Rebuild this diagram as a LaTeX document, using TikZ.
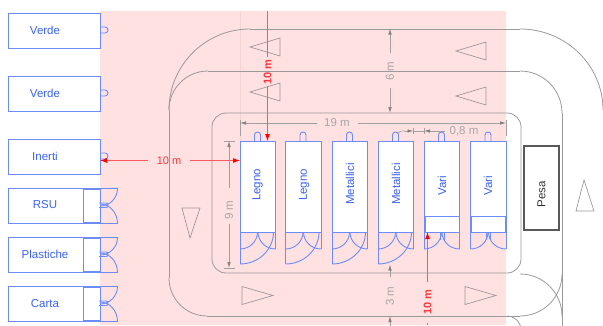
\documentclass[tikz,border=0pt]{standalone}
\usepackage{fontspec}
\setmainfont{Liberation Sans}
\usetikzlibrary{arrows.meta}
\definecolor{pinkbg}{HTML}{FFE1E2}
\definecolor{pinkln}{HTML}{F9D2D4}
\definecolor{blueln}{HTML}{6C8CFA}
\definecolor{bluetx}{HTML}{3A62F5}
\definecolor{roadln}{HTML}{9A9A9A}
\definecolor{dimln}{HTML}{A0A0A0}
\definecolor{dimtx}{HTML}{A6A6A6}
\definecolor{redln}{HTML}{FA5A5E}
\definecolor{redtx}{HTML}{F53A40}
% quarter curves: start point, end point; HV leaves horizontally, VH leaves vertically
\newcommand{\qHV}[4]{(#1,#2) .. controls ({(#1)+0.5523*((#3)-(#1))},#2) and (#3,{(#4)-0.5523*((#4)-(#2))}) .. (#3,#4)}
\newcommand{\qVH}[4]{(#1,#2) .. controls (#1,{(#2)+0.5523*((#4)-(#2))}) and ({(#3)-0.5523*((#3)-(#1))},#4) .. (#3,#4)}
\tikzset{
  every node/.style={font=\fontsize{11.5}{13}\selectfont, inner sep=0pt, outer sep=0pt},
  boxw/.style={draw=blueln, fill=white, line width=0.9pt, rectangle, anchor=north west},
  sidebox/.style={boxw, minimum width=92pt, minimum height=35pt},
  cont/.style={boxw, minimum width=35.5pt, minimum height=91pt},
  label/.style={text=bluetx},
  vlabel/.style={text=bluetx, rotate=90},
  door/.style={draw=blueln, line width=0.9pt},
  road/.style={draw=roadln, line width=0.8pt},
  tri/.style={draw=roadln, line width=0.7pt},
  dim/.style={draw=dimln, line width=0.7pt},
  dimarrow/.style={dim, -{Latex[length=6pt,width=3.5pt,color=gray]}},
  dimtext/.style={text=dimtx},
  redarrow/.style={draw=redln, line width=0.9pt, -{Latex[length=7pt,width=5pt,color=red]}},
  redplain/.style={draw=redln, line width=0.9pt},
  redtext/.style={text=redtx, font=\fontsize{11}{13}\selectfont\bfseries},
  redtextn/.style={text=redtx, font=\fontsize{11}{13}\selectfont},
}
\begin{document}
\begin{tikzpicture}[x=1pt,y=-1pt]
\useasboundingbox (0,0) rectangle (603,325);
\begin{scope}
\clip (0,0) rectangle (603,325);
\fill[pinkbg] (100,11) rectangle (506,325);
\draw[pinkln,line width=0.7pt] (240,11) -- (240,141);

% roads
\draw[road, rounded corners=14pt] (212,190) -- (212,113) -- (521,113) -- (521,273) -- (212,273) -- cycle;
\draw[road] \qVH{169}{110}{250}{29};
\draw[road] (250,29) -- (520,29);
\draw[road] \qHV{520}{29}{603}{110};
\draw[road] \qVH{169}{110}{208}{71};
\draw[road] (208,71) -- (520,71);
\draw[road] \qHV{520}{71}{562}{113};
\draw[road] (562,113) -- (562,330);
\draw[road] (169,110) -- (169,278);
\draw[road] \qVH{169}{278}{207}{316};
\draw[road] (207,316) -- (520,316);
\draw[road] \qHV{520}{316}{562}{274};
\draw[road] \qHV{520}{274}{562}{316};
\draw[road] \qHV{507}{316}{521}{330};

% triangles
\foreach \xb/\yc in {280/47,280/92,486/51,486/96}
  \draw[tri] (\xb,\yc-9) -- (\xb,\yc+9) -- (\xb-30,\yc) -- cycle;
\foreach \xb/\yc in {242/295.5,465/295.5}
  \draw[tri] (\xb,\yc-9) -- (\xb,\yc+9) -- (\xb+31,\yc) -- cycle;
\draw[tri] (182,208) -- (200,208) -- (190,238) -- cycle;
\draw[tri] (576,211) -- (594,211) -- (584,180) -- cycle;

% side boxes with knobs
\foreach \y in {30,93,156}
  \draw[door, rounded corners=2.9pt] (100,\y-3) -- (108,\y-3) -- (108,\y+3) -- (100,\y+3);
\node[sidebox] (verdeA) at (8,13) {};
\node[sidebox] (verdeB) at (8,76) {};
\node[sidebox, minimum height=35.5pt] (inerti) at (8,139) {};
\node[sidebox] (rsu) at (8,188.5) {};
\node[sidebox] (plastiche) at (8,237.5) {};
\node[sidebox] (carta) at (8,286.5) {};
\node[label] (tverdeA) at (45,30.5) {Verde};
\node[label] (tverdeB) at (45,93.5) {Verde};
\node[label] (tinerti) at (45,156) {Inerti};
\node[label] (trsu) at (45,205) {RSU};
\node[label] (tplastiche) at (45,254.5) {Plastiche};
\node[label] (tcarta) at (45,303.5) {Carta};
\foreach \y in {188.5,237.5,286.5}{
  \draw[door,fill=white] (83,\y+1) rectangle (100,\y+34);
  \draw[door] (100,\y) -- (117.5,\y);
  \draw[door] \qVH{117.5}{\y}{100}{\y+17.5};
  \draw[door] (100,\y+35) -- (117.5,\y+35);
  \draw[door] \qVH{117.5}{\y+35}{100}{\y+15.5};
  \draw[door, rounded corners=2pt] (99,\y+14.5) -- (108,\y+14.5) -- (108,\y+19) -- (99,\y+19);
}

% containers
\foreach \x/\n in {240/legnoA,285.5/legnoB,332/metA,378/metB,424/variA,470.5/variB}{
  \draw[door, rounded corners=2.9pt] (\x+14.5,141) -- (\x+14.5,132) -- (\x+20.5,132) -- (\x+20.5,141);
  \node[cont] (\n) at (\x,141) {};
  \draw[door] (\x,232) -- (\x,249);
  \draw[door] (\x+35.5,232) -- (\x+35.5,249);
  \draw[door] \qHV{\x}{249}{\x+17.5}{232};
  \draw[door] \qHV{\x+35.5}{249}{\x+18}{232};
}
\foreach \x in {240,285.5,332,378}{
  \draw[door] (\x,249) -- (\x,264);
  \draw[door] \qHV{\x}{264}{\x+33.5}{232};
}
\foreach \x in {424,470.5}{
  \draw[door] (\x+1,216) rectangle (\x+35,232);
  \draw[door] (\x+16,232) -- (\x+16,240) (\x+20,232) -- (\x+20,240);
}
\node[vlabel] (tlegnoA) at (257.5,185) {Legno};
\node[vlabel] (tlegnoB) at (304,185) {Legno};
\node[vlabel] (tmetA) at (350,184) {Metallici};
\node[vlabel] (tmetB) at (396,184) {Metallici};
\node[vlabel] (tvariA) at (442,186) {Vari};
\node[vlabel] (tvariB) at (488,186) {Vari};

% pesa
\node[draw=black!65, fill=white, line width=1.8pt, rectangle, anchor=north west, minimum width=35pt, minimum height=84pt] (pesa) at (524,146) {};
\node[rotate=90, text=black!80] (tpesa) at (541.5,194) {Pesa};

% dimensions
\coordinate (d19l) at (240,123); \coordinate (d19r) at (506,123);
\draw[dim] (240,120) -- (240,136);
\draw[dim] (506,120) -- (506,136);
\node[dimtext] (t19) at (337,123) {19 m};
\coordinate (d19a) at (317,123); \coordinate (d19b) at (358,123);
\draw[dimarrow] (d19a) -- (d19l);
\draw[dimarrow] (d19b) -- (d19r);
\coordinate (d8l) at (413.5,131); \coordinate (d8r) at (424,131);
\draw[dim] (398,133) to[bend left=25] (405,131);
\draw[dim] (413.5,128) -- (413.5,134);
\draw[dim] (424,128) -- (424,134);
\draw[dim] (413.5,131) -- (424,131);
\coordinate (d8la) at (405,131); \coordinate (d8ra) at (433,131);
\draw[dimarrow] (d8la) -- (d8l);
\draw[dimarrow] (d8ra) -- (d8r);
\draw[dim] (433,131) -- (445,131);
\node[dimtext] (t08) at (464,131) {0,8 m};
\draw[dim] (224,141) -- (235,141);
\draw[dim] (224,268) -- (235,268);
\node[dimtext, rotate=90] (t9) at (229,210) {9 m};
\draw[dimarrow] (229,188) -- (229,141);
\draw[dimarrow] (229,224) -- (229,268);
\node[dimtext, rotate=90] (t6) at (390,71) {6 m};
\draw[dimarrow] (390,53) -- (390,28.5);
\draw[dimarrow] (390,88) -- (390,113);
\node[dimtext, rotate=90] (t3) at (390,296) {3 m};
\draw[dimarrow] (390,277) -- (390,264.5);
\draw[dimarrow] (390,330) -- (390,316);

% red measures
\node[redtextn] (r1) at (169,160.5) {10 m};
\coordinate (r1a) at (148,160.5); \coordinate (r1b) at (190,160.5);
\coordinate (r1l) at (100,160.5); \coordinate (r1r) at (240,160.5);
\draw[redarrow] (r1a) -- (r1l);
\draw[redarrow] (r1b) -- (r1r);
\node[redtext, rotate=90] (r2) at (267.5,72) {10 m};
\draw[redplain] (267.5,11) -- (267.5,57);
\draw[redarrow] (267.5,86) -- (267.5,141);
\node[redtext, rotate=90] (r3) at (427.5,302) {10 m};
\draw[redarrow] (427.5,282) -- (427.5,232);
\draw[redplain] (427.5,323) -- (427.5,325);
\end{scope}
\end{tikzpicture}
\end{document}
